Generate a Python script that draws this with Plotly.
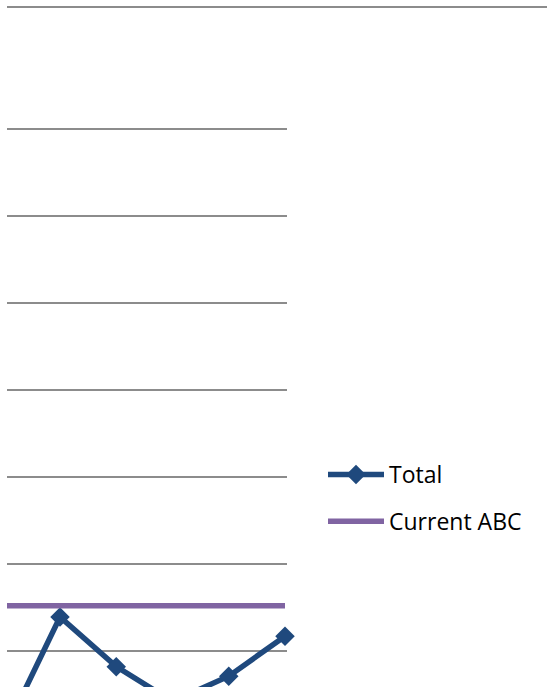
import plotly.graph_objects as go

# data
categories = [0, 1, 2, 3, 4, 5]
total_values = [5, 139, 82, 42, 71, 117]
current_abc = [152, 152, 152, 152, 152, 152]

W, H = 547, 687
y_top = 705
top_px = 129 - (y_top - 700) * 0.87

fig = go.Figure()
fig.add_trace(go.Scatter(
    x=categories, y=total_values, name="Total", mode="lines+markers",
    line=dict(color="#1F497D", width=5.5),
    marker=dict(symbol="diamond", size=15, color="#1F497D"),
    cliponaxis=False, legendgroup="a",
))
fig.add_trace(go.Scatter(
    x=categories, y=current_abc, name="Current ABC", mode="lines",
    line=dict(color="#8064A2", width=5.5), legendgroup="b",
))

fig.update_layout(
    width=W, height=H,
    margin=dict(l=0, r=0, t=0, b=0),
    paper_bgcolor="white", plot_bgcolor="white",
    showlegend=True,
    legend=dict(
        x=323 / W, y=(H - 453) / H, xanchor="left", yanchor="top",
        font=dict(family="Open Sans", size=23, color="#000000"),
        itemwidth=56, traceorder="grouped", tracegroupgap=14,
        bgcolor="rgba(0,0,0,0)",
    ),
    xaxis=dict(
        domain=[7 / W, 287 / W],
        range=[0.0578, 5.0356],
        showgrid=False, zeroline=False, showticklabels=False, ticks="",
        showline=False,
    ),
    yaxis=dict(
        domain=[0, (H - top_px) / H],
        range=[58.6, y_top],
        tick0=0, dtick=100,
        showgrid=True, gridcolor="#8C8C8C", gridwidth=2,
        zeroline=False, showticklabels=False, ticks="", showline=False,
    ),
    shapes=[dict(
        type="line", xref="paper", yref="paper",
        x0=7 / W, x1=1, y0=(H - 7) / H, y1=(H - 7) / H,
        line=dict(color="#8C8C8C", width=2),
    )],
)

fig.write_html("out.html", config={"displayModeBar": False},
               post_script="document.body.style.margin='0px';")
